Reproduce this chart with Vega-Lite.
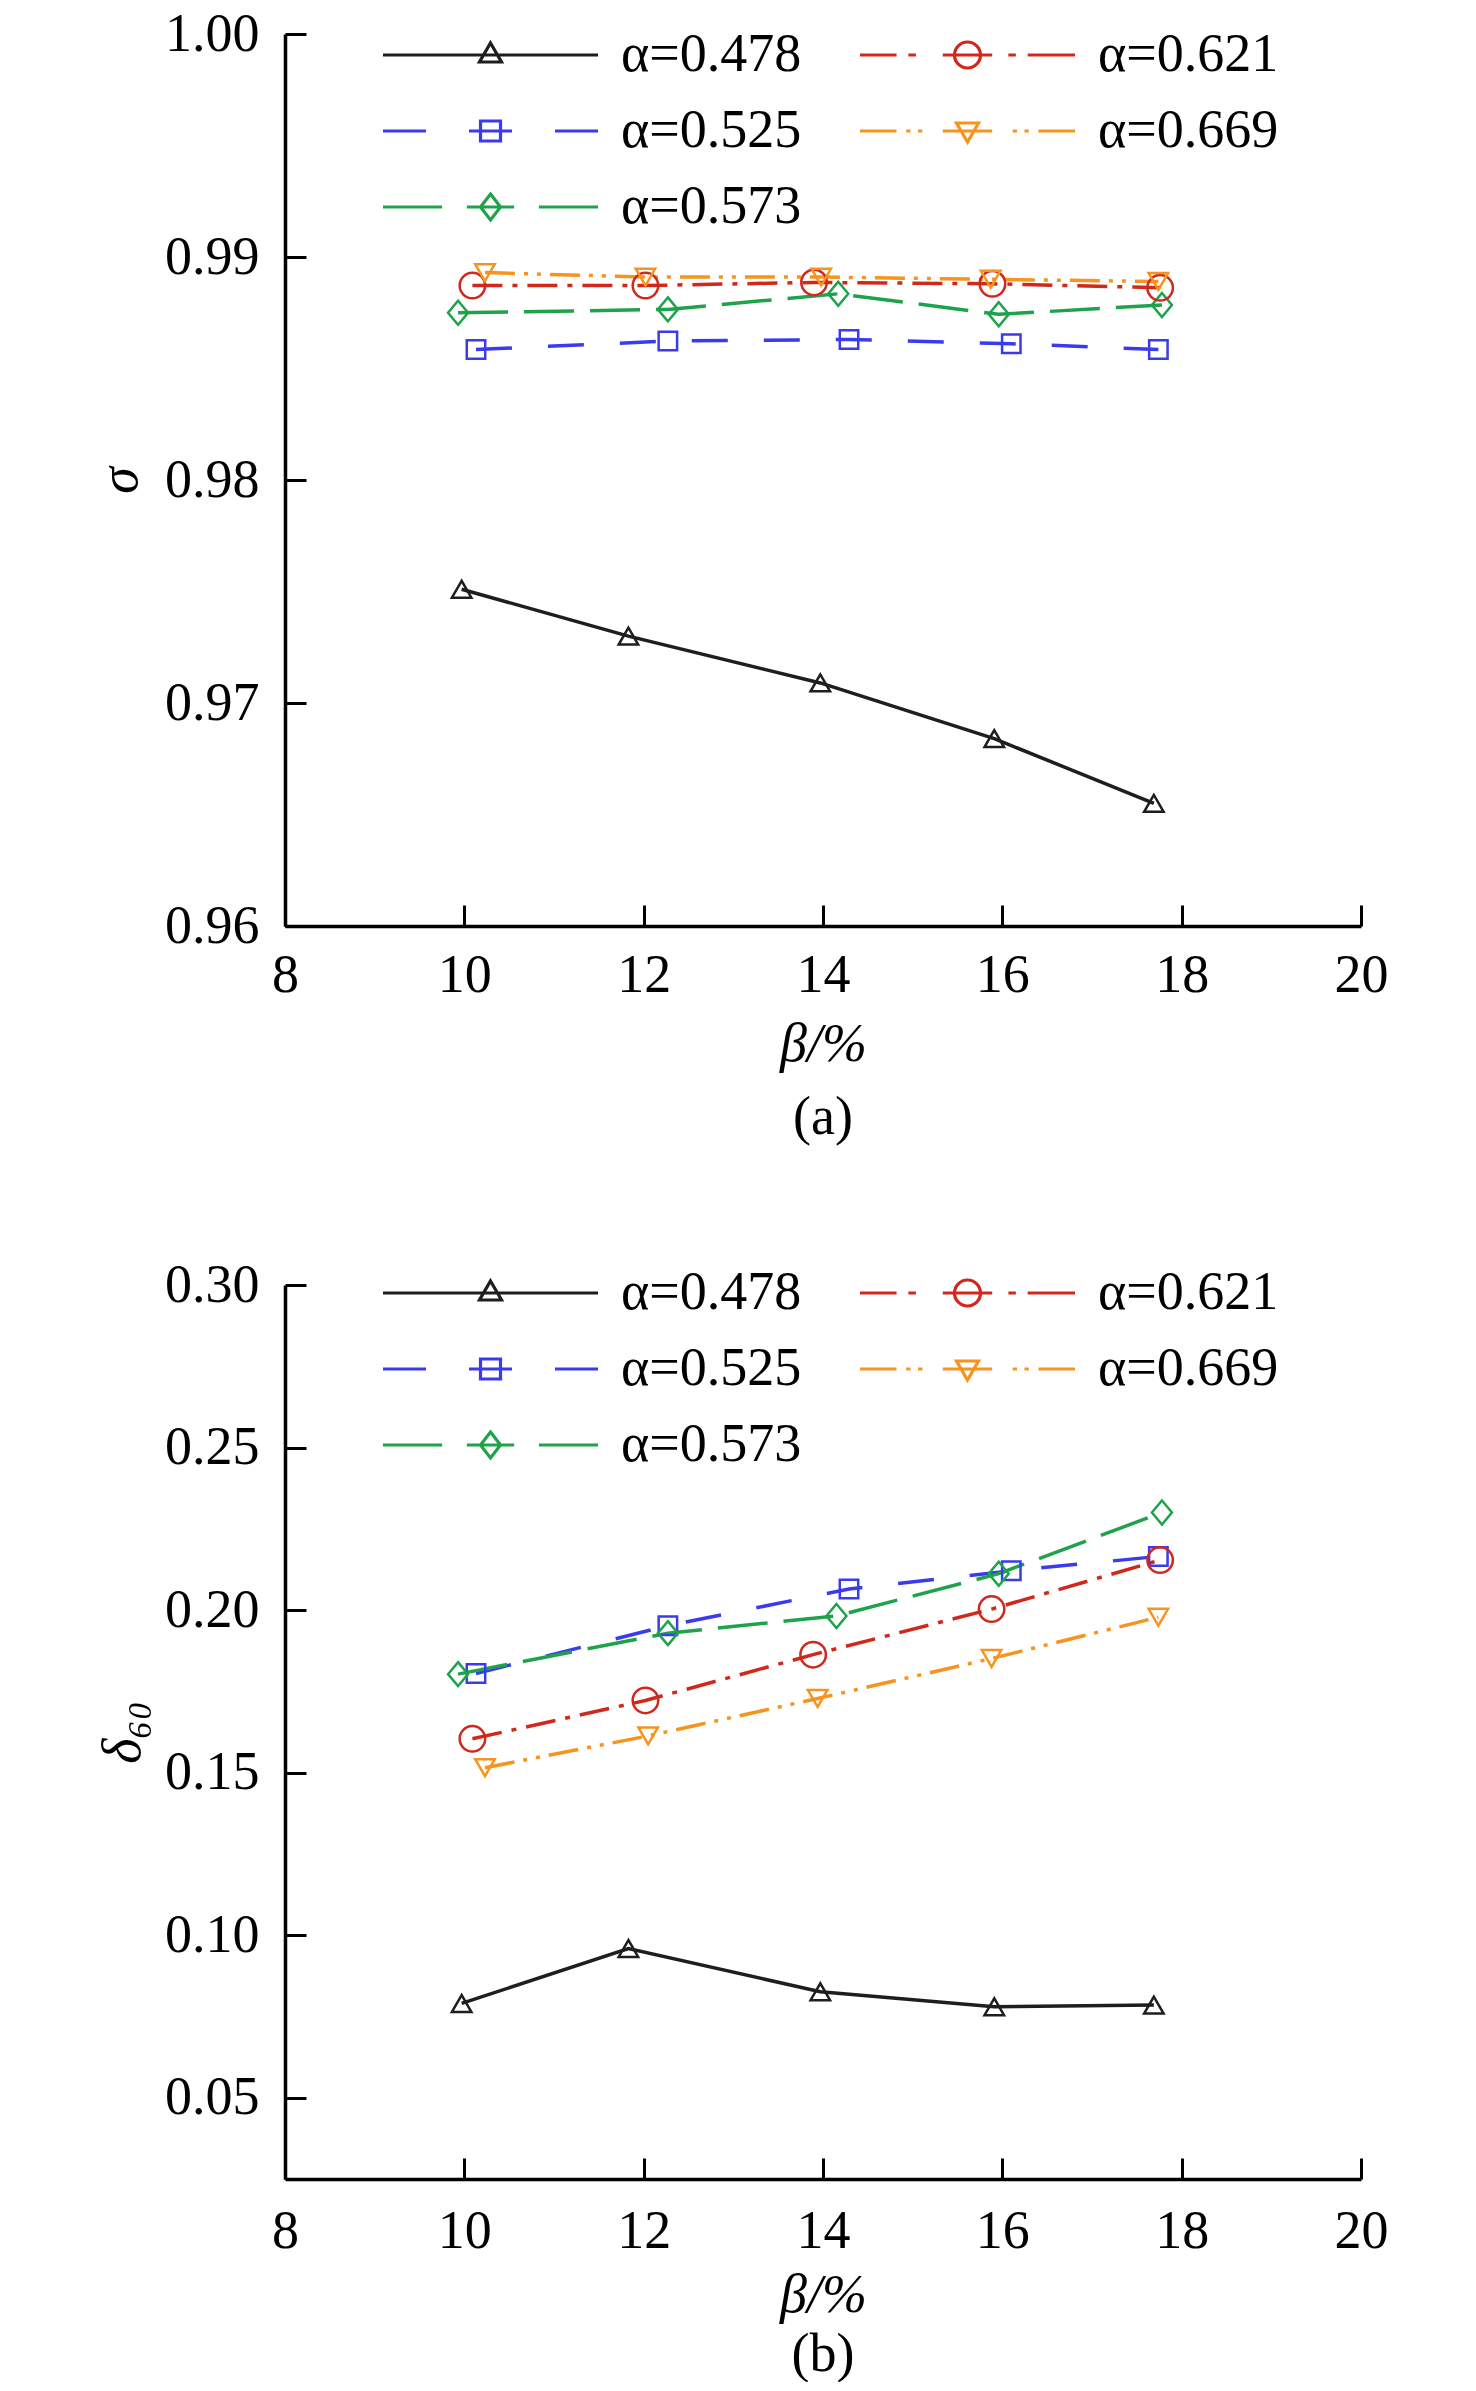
{
  "$schema": "https://vega.github.io/schema/vega-lite/v6.json",
  "padding": {"left": 93, "top": 7, "right": 5, "bottom": 0},
  "background": "white",
  "spacing": 113,
  "resolve": {"scale": {"color": "independent", "shape": "independent"}, "legend": {"color": "independent", "shape": "independent"}},
  "config": {
    "view": {"stroke": null},
    "axis": {
      "grid": false,
      "domainColor": "black",
      "domainWidth": 3.5,
      "tickColor": "black",
      "tickWidth": 3,
      "tickSize": -21,
      "labelFont": "Liberation Serif",
      "labelFontSize": 54,
      "labelColor": "black",
      "labelPadding": 47,
      "labelFlush": false,
      "labelOverlap": false,
      "titleFont": "Liberation Serif",
      "titleFontSize": 54,
      "titleFontStyle": "italic",
      "titleFontWeight": "normal",
      "titleColor": "black"
    },
    "legend": {
      "orient": "none",
      "legendX": 91,
      "columns": 2,
      "columnPadding": 51,
      "rowPadding": 22,
      "padding": 0,
      "labelFont": "Liberation Serif",
      "labelFontSize": 54,
      "labelColor": "black",
      "labelOffset": 191,
      "labelLimit": 0,
      "symbolSize": 1600,
      "symbolStrokeWidth": 3.2,
      "symbolOpacity": 1,
      "symbolFillColor": "transparent",
      "title": null
    },
    "title": {"font": "Liberation Serif", "fontSize": 54, "fontWeight": "normal", "color": "black", "orient": "bottom", "anchor": "middle"}
  },
  "datasets": {
    "sigma": [
      {"alpha": "α=0.478", "beta": 9.97, "value": 0.9751},
      {"alpha": "α=0.478", "beta": 11.83, "value": 0.9730},
      {"alpha": "α=0.478", "beta": 13.97, "value": 0.9709},
      {"alpha": "α=0.478", "beta": 15.91, "value": 0.9684},
      {"alpha": "α=0.478", "beta": 17.69, "value": 0.9655},
      {"alpha": "α=0.525", "beta": 10.13, "value": 0.98585},
      {"alpha": "α=0.525", "beta": 12.27, "value": 0.98623},
      {"alpha": "α=0.525", "beta": 14.29, "value": 0.9863},
      {"alpha": "α=0.525", "beta": 16.1, "value": 0.98611},
      {"alpha": "α=0.525", "beta": 17.74, "value": 0.98585},
      {"alpha": "α=0.573", "beta": 9.93, "value": 0.9875},
      {"alpha": "α=0.573", "beta": 12.27, "value": 0.98765},
      {"alpha": "α=0.573", "beta": 14.17, "value": 0.98835},
      {"alpha": "α=0.573", "beta": 15.96, "value": 0.98743},
      {"alpha": "α=0.573", "beta": 17.78, "value": 0.98785},
      {"alpha": "α=0.621", "beta": 10.09, "value": 0.98872},
      {"alpha": "α=0.621", "beta": 12.02, "value": 0.98872},
      {"alpha": "α=0.621", "beta": 13.9, "value": 0.98886},
      {"alpha": "α=0.621", "beta": 15.89, "value": 0.9888},
      {"alpha": "α=0.621", "beta": 17.76, "value": 0.98862},
      {"alpha": "α=0.669", "beta": 10.23, "value": 0.9893},
      {"alpha": "α=0.669", "beta": 12.02, "value": 0.9891},
      {"alpha": "α=0.669", "beta": 13.98, "value": 0.9891},
      {"alpha": "α=0.669", "beta": 15.87, "value": 0.9890},
      {"alpha": "α=0.669", "beta": 17.74, "value": 0.9889}
    ],
    "delta": [
      {"alpha": "α=0.478", "beta": 9.97, "value": 0.0790},
      {"alpha": "α=0.478", "beta": 11.83, "value": 0.0959},
      {"alpha": "α=0.478", "beta": 13.97, "value": 0.0826},
      {"alpha": "α=0.478", "beta": 15.91, "value": 0.0780},
      {"alpha": "α=0.478", "beta": 17.69, "value": 0.0785},
      {"alpha": "α=0.525", "beta": 10.13, "value": 0.1805},
      {"alpha": "α=0.525", "beta": 12.27, "value": 0.1952},
      {"alpha": "α=0.525", "beta": 14.29, "value": 0.2065},
      {"alpha": "α=0.525", "beta": 16.1, "value": 0.2121},
      {"alpha": "α=0.525", "beta": 17.74, "value": 0.2165},
      {"alpha": "α=0.573", "beta": 9.93, "value": 0.1803},
      {"alpha": "α=0.573", "beta": 12.27, "value": 0.1929},
      {"alpha": "α=0.573", "beta": 14.15, "value": 0.1982},
      {"alpha": "α=0.573", "beta": 15.96, "value": 0.2112},
      {"alpha": "α=0.573", "beta": 17.78, "value": 0.2300},
      {"alpha": "α=0.621", "beta": 10.09, "value": 0.1604},
      {"alpha": "α=0.621", "beta": 12.02, "value": 0.1722},
      {"alpha": "α=0.621", "beta": 13.89, "value": 0.1863},
      {"alpha": "α=0.621", "beta": 15.88, "value": 0.2003},
      {"alpha": "α=0.621", "beta": 17.76, "value": 0.2154},
      {"alpha": "α=0.669", "beta": 10.23, "value": 0.1515},
      {"alpha": "α=0.669", "beta": 12.05, "value": 0.1613},
      {"alpha": "α=0.669", "beta": 13.94, "value": 0.1728},
      {"alpha": "α=0.669", "beta": 15.88, "value": 0.1851},
      {"alpha": "α=0.669", "beta": 17.74, "value": 0.1978}
    ]
  },
  "vconcat": [
    {
      "width": 1076,
      "height": 892,
      "title": {"text": "(a)", "offset": 20},
      "data": {"name": "sigma"},
      "encoding": {
        "x": {"field": "beta", "type": "quantitative", "scale": {"domain": [8, 20], "nice": false, "zero": false}, "axis": {"values": [8, 10, 12, 14, 16, 18, 20], "title": "β/%", "titlePadding": 15, "labelPadding": 43}},
        "y": {"field": "value", "type": "quantitative", "scale": {"domain": [0.96, 1.0], "nice": false, "zero": false}, "axis": {"values": [0.96, 0.97, 0.98, 0.99, 1.0], "format": ".2f", "title": "σ", "titlePadding": 17}},
        "color": {"field": "alpha", "type": "nominal", "legend": {"legendY": -6}, "scale": {"domain": ["α=0.478", "α=0.525", "α=0.573", "α=0.621", "α=0.669"], "range": ["#1e1e1e", "#3a3aee", "#1fa34a", "#d0281c", "#f7941d"]}}
      },
      "layer": [
        {"transform": [{"filter": "datum.alpha == 'α=0.478'"}], "mark": {"type": "line", "strokeWidth": 3.5}},
        {"transform": [{"filter": "datum.alpha == 'α=0.525'"}], "mark": {"type": "line", "strokeWidth": 3.5, "strokeDash": [36, 36]}},
        {"transform": [{"filter": "datum.alpha == 'α=0.573'"}], "mark": {"type": "line", "strokeWidth": 3.5, "strokeDash": [50, 16]}},
        {"transform": [{"filter": "datum.alpha == 'α=0.621'"}], "mark": {"type": "line", "strokeWidth": 3.5, "strokeDash": [30, 10, 5, 10]}},
        {"transform": [{"filter": "datum.alpha == 'α=0.669'"}], "mark": {"type": "line", "strokeWidth": 3.5, "strokeDash": [30, 9, 4, 9, 4, 9]}},
        {"transform": [{"filter": "datum.alpha == 'α=0.478'"}], "mark": {"type": "point", "shape": "triangle-up", "filled": false, "opacity": 1, "size": 380, "strokeWidth": 2.5}},
        {"transform": [{"filter": "datum.alpha == 'α=0.525'"}], "mark": {"type": "point", "shape": "square", "filled": false, "opacity": 1, "size": 340, "strokeWidth": 2.5}},
        {"transform": [{"filter": "datum.alpha == 'α=0.573'"}], "mark": {"type": "point", "shape": "M0,-1.2L1,0L0,1.2L-1,0Z", "filled": false, "opacity": 1, "size": 400, "strokeWidth": 2.5}},
        {"transform": [{"filter": "datum.alpha == 'α=0.621'"}], "mark": {"type": "point", "shape": "circle", "filled": false, "opacity": 1, "size": 650, "strokeWidth": 2.5}},
        {"transform": [{"filter": "datum.alpha == 'α=0.669'"}], "mark": {"type": "point", "shape": "triangle-down", "filled": false, "opacity": 1, "size": 380, "strokeWidth": 2.5}},
        {
          "mark": {"type": "point", "filled": false, "opacity": 0, "size": 1},
          "encoding": {
            "shape": {"field": "alpha", "type": "nominal", "legend": {"legendY": -6}, "scale": {"domain": ["α=0.478", "α=0.525", "α=0.573", "α=0.621", "α=0.669"], "range": [
              "M-1,0H9.75M4.375,-0.6L4.925,0.35H3.825Z",
              "M-1,0H1.15M3.3,0H5.45M7.6,0H9.75M3.875,-0.5H4.875V0.5H3.875Z",
              "M-1,0H1.956M3.1925,0H5.5575M6.794,0H9.75M4.375,-0.65L4.875,0L4.375,0.65L3.875,0Z",
              "M-1,0H0.827M1.419,0H1.795M3.139,0H5.611M6.4175,0H6.794M7.385,0H9.75M5.025,0A0.65 0.65 0 1 1 3.725,0A0.65 0.65 0 1 1 5.025,0Z",
              "M-1,0H0.827M1.311,0H1.526M1.9,0H2.117M3.139,0H5.611M6.6325,0H6.8475M7.224,0H7.439M7.9225,0H9.75M3.825,-0.4H4.925L4.375,0.55Z"
            ]}}
          }
        }
      ]
    },
    {
      "width": 1076,
      "height": 894,
      "title": {"text": "(b)", "offset": 6},
      "data": {"name": "delta"},
      "encoding": {
        "x": {"field": "beta", "type": "quantitative", "scale": {"domain": [8, 20], "nice": false, "zero": false}, "axis": {"values": [8, 10, 12, 14, 16, 18, 20], "title": "β/%", "titlePadding": 10, "labelPadding": 46}},
        "y": {"field": "value", "type": "quantitative", "scale": {"domain": [0.025, 0.3], "nice": false, "zero": false}, "axis": {"values": [0.05, 0.1, 0.15, 0.2, 0.25, 0.3], "format": ".2f", "title": "δ₆₀", "titlePadding": 14}},
        "color": {"field": "alpha", "type": "nominal", "legend": {"legendY": -19}, "scale": {"domain": ["α=0.478", "α=0.525", "α=0.573", "α=0.621", "α=0.669"], "range": ["#1e1e1e", "#3a3aee", "#1fa34a", "#d0281c", "#f7941d"]}}
      },
      "layer": [
        {"transform": [{"filter": "datum.alpha == 'α=0.478'"}], "mark": {"type": "line", "strokeWidth": 3.5}},
        {"transform": [{"filter": "datum.alpha == 'α=0.525'"}], "mark": {"type": "line", "strokeWidth": 3.5, "strokeDash": [36, 36]}},
        {"transform": [{"filter": "datum.alpha == 'α=0.573'"}], "mark": {"type": "line", "strokeWidth": 3.5, "strokeDash": [50, 16]}},
        {"transform": [{"filter": "datum.alpha == 'α=0.621'"}], "mark": {"type": "line", "strokeWidth": 3.5, "strokeDash": [30, 10, 5, 10]}},
        {"transform": [{"filter": "datum.alpha == 'α=0.669'"}], "mark": {"type": "line", "strokeWidth": 3.5, "strokeDash": [30, 9, 4, 9, 4, 9]}},
        {"transform": [{"filter": "datum.alpha == 'α=0.478'"}], "mark": {"type": "point", "shape": "triangle-up", "filled": false, "opacity": 1, "size": 380, "strokeWidth": 2.5}},
        {"transform": [{"filter": "datum.alpha == 'α=0.525'"}], "mark": {"type": "point", "shape": "square", "filled": false, "opacity": 1, "size": 340, "strokeWidth": 2.5}},
        {"transform": [{"filter": "datum.alpha == 'α=0.573'"}], "mark": {"type": "point", "shape": "M0,-1.2L1,0L0,1.2L-1,0Z", "filled": false, "opacity": 1, "size": 400, "strokeWidth": 2.5}},
        {"transform": [{"filter": "datum.alpha == 'α=0.621'"}], "mark": {"type": "point", "shape": "circle", "filled": false, "opacity": 1, "size": 650, "strokeWidth": 2.5}},
        {"transform": [{"filter": "datum.alpha == 'α=0.669'"}], "mark": {"type": "point", "shape": "triangle-down", "filled": false, "opacity": 1, "size": 380, "strokeWidth": 2.5}},
        {
          "mark": {"type": "point", "filled": false, "opacity": 0, "size": 1},
          "encoding": {
            "shape": {"field": "alpha", "type": "nominal", "legend": {"legendY": -19}, "scale": {"domain": ["α=0.478", "α=0.525", "α=0.573", "α=0.621", "α=0.669"], "range": [
              "M-1,0H9.75M4.375,-0.6L4.925,0.35H3.825Z",
              "M-1,0H1.15M3.3,0H5.45M7.6,0H9.75M3.875,-0.5H4.875V0.5H3.875Z",
              "M-1,0H1.956M3.1925,0H5.5575M6.794,0H9.75M4.375,-0.65L4.875,0L4.375,0.65L3.875,0Z",
              "M-1,0H0.827M1.419,0H1.795M3.139,0H5.611M6.4175,0H6.794M7.385,0H9.75M5.025,0A0.65 0.65 0 1 1 3.725,0A0.65 0.65 0 1 1 5.025,0Z",
              "M-1,0H0.827M1.311,0H1.526M1.9,0H2.117M3.139,0H5.611M6.6325,0H6.8475M7.224,0H7.439M7.9225,0H9.75M3.825,-0.4H4.925L4.375,0.55Z"
            ]}}
          }
        }
      ]
    }
  ]
}
